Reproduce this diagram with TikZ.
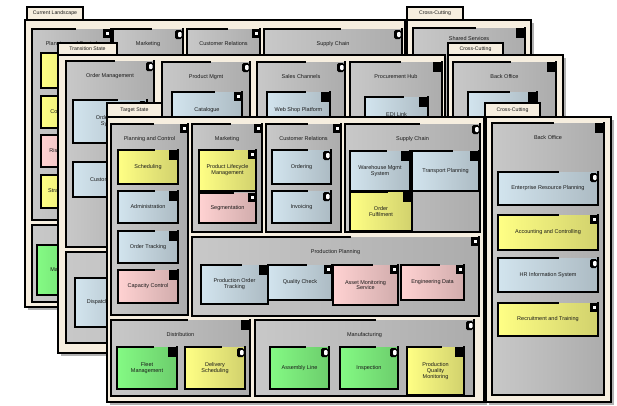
\documentclass[tikz,border=0pt]{standalone}
\usepackage{fontspec}
\setmainfont{Liberation Sans}
\definecolor{cream}{HTML}{F6EEDF}
\definecolor{gbox}{HTML}{C8C8C8}
\definecolor{yel}{HTML}{FFFF85}
\definecolor{blu}{HTML}{D2E4EE}
\definecolor{pnk}{HTML}{FFD2D2}
\definecolor{grn}{HTML}{84FA84}
\newcounter{lblc}
\tikzset{
  edge/.style={line width=1.7pt, line cap=rect, black},
  lbl/.style={font=\fontsize{5.5}{5.9}\selectfont, align=center, inner sep=0pt, text=black!90},
  tablbl/.style={font=\fontsize{5.2}{5.6}\selectfont, inner sep=0pt, text=black!90},
}
\newcommand\myicon[3]{%
  \ifcase#3\or
    \fill (#1-8,#2) rectangle (#1,#2+9);
    \fill[white] (#1-5.5,#2+2.5) rectangle (#1-2.5,#2+6);
  \or
    \fill[rounded corners=1.5] (#1-8,#2+1) rectangle (#1-1,#2+10);
    \fill[white,rounded corners=1] (#1-5,#2+3) rectangle (#1-1.5,#2+8);
  \or
    \fill (#1-9,#2) rectangle (#1,#2+10);
  \fi}
\newcommand\mkshape[6]{%
  \shade[left color=#5, right color=#5!82!black] (#1,#2) rectangle (#3,#4);
  \draw[edge] (#1,#2) -- (#1,#4) -- (#3,#4) -- (#3,#2);
  \draw[edge] (#1,#2) -- ({#1+0.6*(#3-#1)},#2);
  \myicon{#3}{#2}{#6}
}
\newcommand\mkel[7]{%
  \mkshape{#1}{#2}{#3}{#4}{#5}{#7}
  \stepcounter{lblc}%
  \node[lbl] (e\arabic{lblc}) at ({(#1+#3)/2},{(#2+#4)/2}) {#6};
}
\newcommand\mkcont[6]{%
  \shade[left color=gbox, right color=gbox!86!black] (#1,#2) rectangle (#3,#4);
  \draw[edge] (#1,#2) -- (#1,#4) -- (#3,#4) -- (#3,#2);
  \draw[edge] (#1,#2) -- ({#1+0.55*(#3-#1)},#2);
  \myicon{#3}{#2}{#6}
  \stepcounter{lblc}%
  \node[lbl] (c\arabic{lblc}) at ({(#1+#3)/2},#2+15) {#5};
}
\newcommand\mkframe[4]{%
  \fill[black!30] (#1+2.5,#2+2.5) rectangle (#3+2.5,#4+2.5);
  \fill[cream] (#1,#2) rectangle (#3,#4);
  \draw[edge] (#1,#2) rectangle (#3,#4);
}
\newcommand\mktab[5]{%
  \draw[edge, fill=cream] (#1,#2) rectangle (#3,#4);
  \stepcounter{lblc}%
  \node[tablbl] (t\arabic{lblc}) at ({(#1+#3)/2},{(#2+#4)/2}) {#5};
}
\begin{document}
\begin{tikzpicture}[x=1pt,y=-1pt]
\useasboundingbox[fill=white] (0,0) rectangle (617,405);
% ---------------- back layer ----------------
\mkframe{25}{20}{405}{307}
\mktab{27}{7}{83}{20}{Current Landscape}
\mkcont{32}{29}{111}{220}{Planning and Control}{1}
\mkel{41}{53}{100}{88}{yel}{Scheduling}{3}
\mkel{41}{96}{100}{128}{yel}{Cost Accounting}{3}
\mkel{41}{135}{100}{167}{pnk}{Risk Assessment}{3}
\mkel{41}{175}{100}{208}{yel}{Strategic Planning}{3}
\mkcont{32}{225}{250}{302}{Distribution}{3}
\mkel{37}{245}{95}{295}{grn}{Vehicle\\Maintenance\\System}{3}
\mkcont{113}{29}{183}{220}{Marketing}{2}
\mkcont{187}{29}{260}{220}{Customer Relations}{1}
\mkcont{264}{29}{402}{220}{Supply Chain}{2}
\mkframe{407}{20}{531}{300}
\mktab{407}{7}{463}{20}{Cross-Cutting}
\shade[left color=gbox, right color=gbox!86!black] (413,28) rectangle (525,294);
\draw[edge] (413,28) -- (413,294) -- (525,294) -- (525,28);
\draw[edge] (413,28) -- (475,28);
\myicon{525}{28}{3}
\node[lbl] (bshared) at (469,38.5) {Shared Services};
% ---------------- middle layer ----------------
\mkframe{58}{55}{445}{353}
\mktab{58}{43}{117}{55}{Transition State}
\mkcont{66}{61}{154}{247}{Order Management}{2}
\mkel{73}{100}{147}{143}{blu}{Order Entry\\System}{2}
\mkel{73}{162}{147}{197}{blu}{Customer Portal}{3}
\mkcont{66}{252}{440}{343}{Warehousing}{3}
\mkel{75}{278}{140}{327}{blu}{Dispatch System}{3}
\mkcont{162}{62}{250}{247}{Product Mgmt}{2}
\mkel{172}{92}{242}{128}{blu}{Catalogue}{1}
\mkcont{257}{62}{345}{247}{Sales Channels}{2}
\mkel{267}{92}{330}{128}{blu}{Web Shop Platform}{3}
\mkcont{350}{62}{442}{247}{Procurement Hub}{3}
\mkel{365}{97}{428}{133}{blu}{EDI Link}{3}
\mkframe{448}{55}{563}{350}
\mktab{448}{43}{503}{55}{Cross-Cutting}
\mkcont{453}{62}{556}{345}{Back Office}{3}
\mkshape{468}{92}{537}{130}{blu}{3}
% ---------------- front layer ----------------
\mkframe{107}{117}{484}{402}
\mktab{107}{103}{162}{117}{Target State}
\mkcont{111}{124}{188}{315}{Planning and Control}{1}
\mkel{118}{150}{178}{184}{yel}{Scheduling}{3}
\mkel{118}{191}{178}{223}{blu}{Administration}{3}
\mkel{118}{231}{178}{263}{blu}{Order Tracking}{3}
\mkel{118}{270}{178}{303}{pnk}{Capacity Control}{3}
\mkcont{192}{124}{262}{232}{Marketing}{1}
\mkel{199}{150}{256}{191}{yel}{Product Lifecycle\\Management}{1}
\mkel{199}{193}{256}{223}{pnk}{Segmentation}{1}
\mkcont{266}{124}{341}{232}{Customer Relations}{1}
\mkel{272}{150}{331}{184}{blu}{Ordering}{2}
\mkel{272}{191}{331}{223}{blu}{Invoicing}{2}
\mkcont{345}{124}{480}{232}{Supply Chain}{2}
\mkel{350}{151}{410}{191}{blu}{Warehouse Mgmt\\System}{3}
\mkel{412}{151}{479}{191}{blu}{Transport Planning}{3}
\mkel{350}{192}{412}{231}{yel}{Order\\Fulfilment}{3}
\mkcont{192}{237}{479}{316}{Production Planning}{1}
\mkel{201}{265}{268}{304}{blu}{Production Order\\Tracking}{3}
\mkel{268}{265}{332}{300}{blu}{Quality Check}{1}
\mkel{333}{265}{398}{305}{pnk}{Asset Monitoring\\Service}{1}
\mkel{401}{265}{464}{300}{pnk}{Engineering Data}{1}
\mkcont{111}{320}{250}{396}{Distribution}{3}
\mkel{117}{347}{177}{389}{grn}{Fleet\\Management}{3}
\mkel{185}{347}{245}{389}{yel}{Delivery\\Scheduling}{2}
\mkcont{255}{320}{474}{396}{Manufacturing}{2}
\mkel{270}{347}{329}{389}{grn}{Assembly Line}{2}
\mkel{340}{347}{398}{389}{grn}{Inspection}{2}
\mkel{407}{347}{464}{395}{yel}{Production\\Quality\\Monitoring}{3}
\mkframe{486}{117}{611}{402}
\mktab{485}{103}{540}{117}{Cross-Cutting}
\mkcont{492}{123}{604}{395}{Back Office}{3}
\mkel{498}{172}{598}{205}{blu}{Enterprise Resource Planning}{2}
\mkel{498}{215}{598}{250}{yel}{Accounting and Controlling}{1}
\mkel{498}{258}{598}{292}{blu}{HR Information System}{2}
\mkel{498}{303}{598}{336}{yel}{Recruitment and Training}{1}
\end{tikzpicture}
\end{document}
